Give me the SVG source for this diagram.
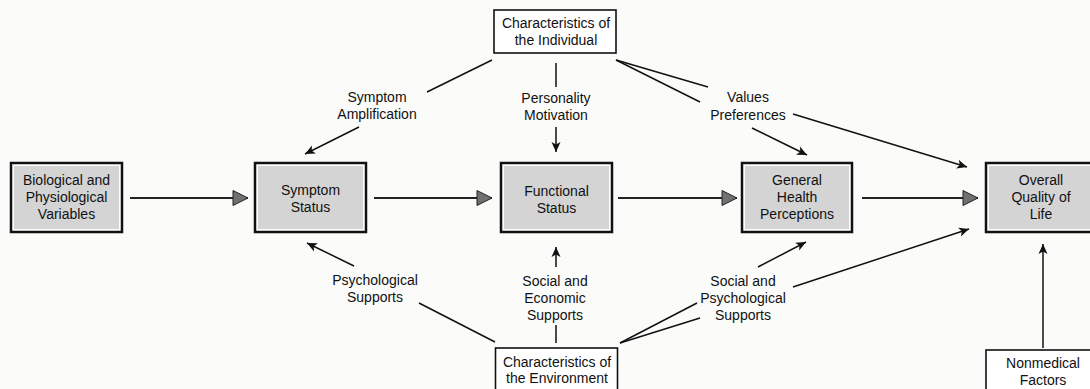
<svg xmlns="http://www.w3.org/2000/svg" width="1090" height="389" viewBox="0 0 1090 389">
  <style>
    text { font-family: "Liberation Sans", Arial, sans-serif; font-size: 14px; fill: #111; text-anchor: middle; }
    .outer { fill: #fdfdfd; stroke: #111; stroke-width: 2.5; }
    .inner { fill: #d4d4d4; stroke: none; }
    .plain { fill: #ffffff; stroke: #111; stroke-width: 1.6; }
    .main { stroke: #222; stroke-width: 1.8; fill: none; marker-end: url(#grayHead); }
    .thin { stroke: #111; stroke-width: 1.5; fill: none; }
    .arr { marker-end: url(#blackHead); }
  </style>
  <defs>
    <marker id="grayHead" markerUnits="userSpaceOnUse" markerWidth="18" markerHeight="18" refX="15" refY="7.5" orient="auto" overflow="visible">
      <path d="M0,0 L15,7.5 L0,15 Z" fill="#707070" stroke="#222" stroke-width="1"/>
    </marker>
    <marker id="blackHead" markerUnits="userSpaceOnUse" markerWidth="12" markerHeight="10" refX="10" refY="4.5" orient="auto" overflow="visible">
      <path d="M0,0 L10,4.5 L0,9 L2.5,4.5 Z" fill="#111"/>
    </marker>
  </defs>
  <rect x="0" y="0" width="1090" height="389" fill="#fbfbfa"/>

  <g id="connectors">
    <!-- main flow -->
    <line class="main" x1="130" y1="198" x2="248" y2="198"/>
    <line class="main" x1="374" y1="198" x2="492" y2="198"/>
    <line class="main" x1="618" y1="198" x2="737" y2="198"/>
    <line class="main" x1="862" y1="198" x2="978" y2="198"/>
    <!-- individual -->
    <line class="thin" x1="492" y1="60" x2="427" y2="92"/>
    <line class="thin arr" x1="359" y1="127" x2="305" y2="154"/>
    <line class="thin" x1="556" y1="63" x2="556" y2="87"/>
    <line class="thin arr" x1="556" y1="127" x2="556" y2="152"/>
    <line class="thin" x1="616" y1="60" x2="708" y2="87"/>
    <line class="thin" x1="616" y1="60" x2="700" y2="102"/>
    <line class="thin arr" x1="752" y1="128" x2="807" y2="155"/>
    <line class="thin arr" x1="793" y1="114" x2="967" y2="167"/>
    <!-- environment -->
    <line class="thin arr" x1="354" y1="266" x2="307" y2="243"/>
    <line class="thin" x1="419" y1="303" x2="495" y2="342"/>
    <line class="thin arr" x1="556" y1="267" x2="556" y2="247"/>
    <line class="thin" x1="556" y1="325" x2="556" y2="343"/>
    <line class="thin" x1="620" y1="343" x2="697" y2="303"/>
    <line class="thin" x1="620" y1="343" x2="700" y2="318"/>
    <line class="thin arr" x1="758" y1="267" x2="806" y2="242"/>
    <line class="thin arr" x1="793" y1="287" x2="969" y2="229"/>
    <!-- nonmedical -->
    <line class="thin arr" x1="1043" y1="348" x2="1043" y2="244"/>
  </g>

  <g id="labels">
    <text x="377" y="102">Symptom</text>
    <text x="377" y="119">Amplification</text>
    <text x="556" y="103">Personality</text>
    <text x="556" y="120">Motivation</text>
    <text x="748" y="102">Values</text>
    <text x="748" y="120">Preferences</text>
    <text x="375" y="285">Psychological</text>
    <text x="375" y="302">Supports</text>
    <text x="555" y="286">Social and</text>
    <text x="555" y="303">Economic</text>
    <text x="555" y="320">Supports</text>
    <text x="743" y="286">Social and</text>
    <text x="743" y="303">Psychological</text>
    <text x="743" y="320">Supports</text>
  </g>

  <g id="node-biological">
    <rect class="outer" x="11" y="163" width="111" height="69"/>
    <rect class="inner" x="14" y="166" width="105" height="63"/>
    <text x="66.5" y="185">Biological and</text>
    <text x="66.5" y="202">Physiological</text>
    <text x="66.5" y="219">Variables</text>
  </g>
  <g id="node-symptom">
    <rect class="outer" x="255" y="163" width="111" height="69"/>
    <rect class="inner" x="258" y="166" width="105" height="63"/>
    <text x="310.5" y="195">Symptom</text>
    <text x="310.5" y="212">Status</text>
  </g>
  <g id="node-functional">
    <rect class="outer" x="501" y="163" width="111" height="69"/>
    <rect class="inner" x="504" y="166" width="105" height="63"/>
    <text x="556.5" y="196">Functional</text>
    <text x="556.5" y="213">Status</text>
  </g>
  <g id="node-general">
    <rect class="outer" x="742" y="163" width="110" height="69"/>
    <rect class="inner" x="745" y="166" width="104" height="63"/>
    <text x="797" y="185">General</text>
    <text x="797" y="202">Health</text>
    <text x="797" y="219">Perceptions</text>
  </g>
  <g id="node-overall">
    <rect class="outer" x="986" y="163" width="111" height="69"/>
    <rect class="inner" x="989" y="166" width="105" height="63"/>
    <text x="1041" y="185">Overall</text>
    <text x="1041" y="202">Quality of</text>
    <text x="1041" y="219">Life</text>
  </g>
  <g id="node-individual">
    <rect class="plain" x="494" y="10" width="122" height="43"/>
    <text x="556" y="28">Characteristics of</text>
    <text x="556" y="45">the Individual</text>
  </g>
  <g id="node-environment">
    <rect class="plain" x="495.5" y="348" width="122" height="48"/>
    <text x="557" y="367">Characteristics of</text>
    <text x="557" y="383">the Environment</text>
  </g>
  <g id="node-nonmedical">
    <rect class="plain" x="986" y="350" width="114" height="48"/>
    <text x="1043" y="368">Nonmedical</text>
    <text x="1043" y="385">Factors</text>
  </g>
</svg>
